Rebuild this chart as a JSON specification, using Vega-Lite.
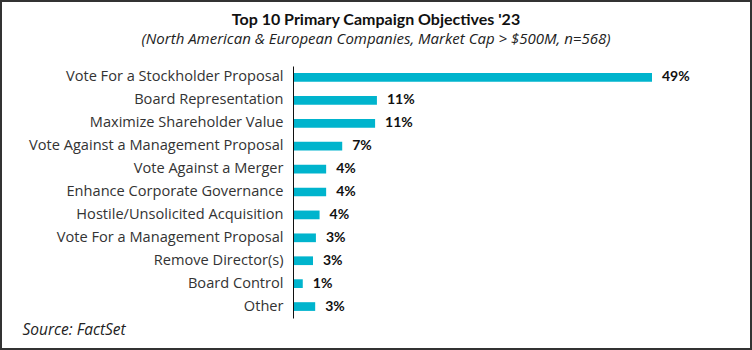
{
  "$schema": "https://vega.github.io/schema/vega-lite/v6.json",
  "width": 750,
  "height": 348,
  "padding": 1,
  "autosize": "none",
  "background": "white",
  "config": {
    "view": {"stroke": "#333333", "strokeWidth": 2},
    "font": "Lato"
  },
  "title": {
    "text": "Top 10 Primary Campaign Objectives '23",
    "subtitle": "(North American & European Companies, Market Cap > $500M, n=568)",
    "anchor": "middle",
    "offset": -46,
    "font": "Lato",
    "fontSize": 16,
    "fontWeight": "bold",
    "color": "#111111",
    "subtitleFont": "Open Sans",
    "subtitleFontSize": 15,
    "subtitleFontStyle": "italic",
    "subtitleColor": "#222222",
    "subtitlePadding": 4
  },
  "data": {
    "values": [
      {"objective": "Vote For a Stockholder Proposal", "value": 49.0, "label": "49%"},
      {"objective": "Board Representation", "value": 11.35, "label": "11%"},
      {"objective": "Maximize Shareholder Value", "value": 11.1, "label": "11%"},
      {"objective": "Vote Against a Management Proposal", "value": 6.6, "label": "7%"},
      {"objective": "Vote Against a Merger", "value": 4.4, "label": "4%"},
      {"objective": "Enhance Corporate Governance", "value": 4.4, "label": "4%"},
      {"objective": "Hostile/Unsolicited Acquisition", "value": 3.5, "label": "4%"},
      {"objective": "Vote For a Management Proposal", "value": 3.0, "label": "3%"},
      {"objective": "Remove Director(s)", "value": 2.6, "label": "3%"},
      {"objective": "Board Control", "value": 1.2, "label": "1%"},
      {"objective": "Other", "value": 2.9, "label": "3%"}
    ]
  },
  "encoding": {
    "y": {
      "field": "objective",
      "type": "nominal",
      "sort": null,
      "scale": {"range": [65, 317], "paddingInner": 0.62, "paddingOuter": 0.31},
      "axis": {
        "title": null,
        "orient": "left",
        "offset": -292,
        "ticks": false,
        "domainColor": "#111111",
        "domainWidth": 1,
        "labelPadding": 10,
        "labelFont": "Open Sans",
        "labelFontSize": 14.6,
        "labelColor": "#333333",
        "labelLimit": 400
      }
    },
    "x": {
      "field": "value",
      "type": "quantitative",
      "scale": {"domain": [0, 49], "range": [293, 651], "nice": false},
      "axis": {
        "orient": "bottom",
        "offset": -20,
        "domain": false,
        "ticks": false,
        "labels": false,
        "grid": false,
        "title": "Source: FactSet",
        "titleX": 21,
        "titleY": 0,
        "titleAlign": "left",
        "titleBaseline": "middle",
        "titleFont": "Open Sans",
        "titleFontSize": 15.5,
        "titleFontStyle": "italic",
        "titleFontWeight": "normal",
        "titleColor": "#222222"
      }
    }
  },
  "layer": [
    {"mark": {"type": "bar", "color": "#00B4CD"}},
    {
      "mark": {"type": "text", "align": "left", "dx": 10, "fontWeight": "bold", "fontSize": 14, "color": "#111111", "font": "Lato"},
      "encoding": {"text": {"field": "label"}}
    }
  ]
}
